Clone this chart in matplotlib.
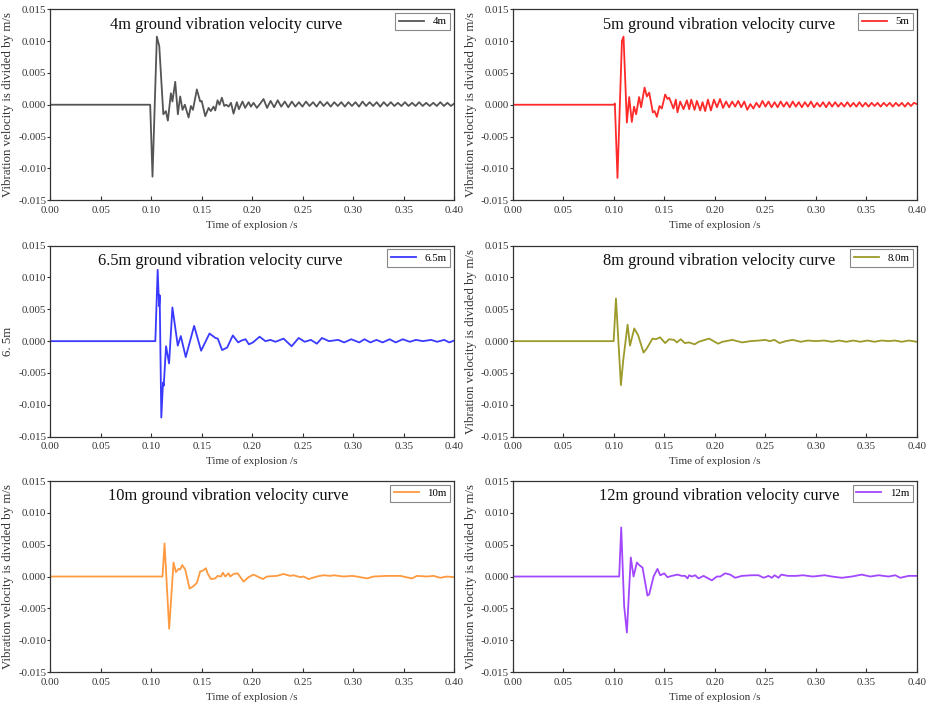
import matplotlib
matplotlib.use("Agg")
import matplotlib.pyplot as plt

plt.rcParams['font.family'] = ['Liberation Serif', 'DejaVu Serif']

# 4m
t_4m = [0, 0.0990, 0.1013, 0.1056, 0.1080, 0.1120, 0.1145, 0.1165, 0.1195, 0.1210,
        0.1238, 0.1264, 0.1287, 0.1310, 0.1333, 0.1370, 0.1393, 0.1413, 0.1452, 0.1485,
        0.1500, 0.1535, 0.1568, 0.1590, 0.1617, 0.1634, 0.1657, 0.1676, 0.1700, 0.1723,
        0.1743, 0.1766, 0.1790, 0.1815, 0.1848, 0.1868, 0.1904, 0.1930, 0.1964, 0.1987,
        0.2013, 0.2046, 0.2080, 0.2112,
        0.2147, 0.2182, 0.2217, 0.2252, 0.2287, 0.2322, 0.2357, 0.2392, 0.2427, 0.2462,
        0.2497, 0.2532, 0.2567, 0.2602, 0.2637, 0.2672, 0.2707, 0.2742, 0.2777, 0.2812,
        0.2847, 0.2882, 0.2917, 0.2952, 0.2987, 0.3022, 0.3057, 0.3092, 0.3127, 0.3162,
        0.3197, 0.3232, 0.3267, 0.3302, 0.3337, 0.3372, 0.3407, 0.3442, 0.3477, 0.3512,
        0.3547, 0.3582, 0.3617, 0.3652, 0.3687, 0.3722, 0.3757, 0.3792, 0.3827, 0.3862,
        0.3897, 0.3932, 0.3967, 0.4000]
v_4m = [0, 0, -0.0113, 0.0107, 0.0092, -0.0015, -0.0010, -0.0025, 0.0018, 0.0005,
        0.0036, -0.0015, 0.0013, -0.0008, 0.0000, -0.0020, -0.0002, -0.0008, 0.0024, 0.0005,
        0.0006, -0.0018, -0.0005, -0.0010, -0.0003, -0.0009, 0.0007, 0.0000, 0.0011, -0.0002,
        0.0000, -0.0003, 0.0003, -0.0014, 0.0004, -0.0007, 0.0005, -0.0005, 0.0004, -0.0003,
        0.0003, -0.0005, 0.0002, 0.0009,
        -0.0005, 0.0006, -0.0004, 0.0007, -0.0003, 0.0005, -0.0004, 0.0005, -0.0003, 0.0004,
        -0.0003, 0.0005, -0.0002, 0.0004, -0.0003, 0.0005, -0.0002, 0.0004, -0.0003, 0.0004,
        -0.0002, 0.0004, -0.0003, 0.0004, -0.0002, 0.0004, -0.0003, 0.0005, -0.0002, 0.0004,
        -0.0002, 0.0004, -0.0003, 0.0004, -0.0002, 0.0004, -0.0002, 0.0003, -0.0002, 0.0004,
        -0.0002, 0.0003, -0.0002, 0.0004, -0.0002, 0.0003, -0.0002, 0.0003, -0.0002, 0.0004,
        -0.0002, 0.0003, -0.0002, 0.0002]

# 5m
t_5m = [0, 0.1000, 0.1010, 0.1036, 0.1080, 0.1096, 0.1129, 0.1152, 0.1178, 0.1200,
        0.1221, 0.1250, 0.1270, 0.1304, 0.1327, 0.1350, 0.1386, 0.1403, 0.1426, 0.1452,
        0.1475, 0.1508, 0.1531, 0.1548, 0.1590, 0.1614, 0.1630, 0.1657, 0.1690, 0.1723,
        0.1746, 0.1766, 0.1799, 0.1822, 0.1855, 0.1878, 0.1904, 0.1931,
        0.1961, 0.1991, 0.2021, 0.2051, 0.2081, 0.2111, 0.2141, 0.2171, 0.2201, 0.2231,
        0.2261, 0.2291, 0.2321, 0.2351, 0.2381, 0.2411, 0.2441, 0.2471, 0.2501, 0.2531,
        0.2561, 0.2591, 0.2621, 0.2651, 0.2681, 0.2711, 0.2741, 0.2771, 0.2801, 0.2831,
        0.2861, 0.2891, 0.2921, 0.2951, 0.2981, 0.3011, 0.3041, 0.3071, 0.3101, 0.3131,
        0.3161, 0.3191, 0.3221, 0.3251, 0.3281, 0.3311, 0.3341, 0.3371, 0.3401, 0.3431,
        0.3461, 0.3491, 0.3521, 0.3551, 0.3581, 0.3611, 0.3641, 0.3671, 0.3701, 0.3731,
        0.3761, 0.3791, 0.3821, 0.3851, 0.3881, 0.3911, 0.3941, 0.3971, 0.4000]
v_5m = [0, 0, 0.0002, -0.0115, 0.0100, 0.0107, -0.0028, 0.0012, -0.0027, -0.0003,
        -0.0015, 0.0012, -0.0004, 0.0027, 0.0013, 0.0019, -0.0012, -0.0010, -0.0019, -0.0002,
        -0.0006, 0.0016, 0.0009, 0.0011, -0.0006, 0.0008, -0.0012, 0.0005, -0.0007, 0.0007,
        -0.0007, 0.0008, -0.0008, 0.0006, -0.0009, 0.0004, -0.0010, 0.0008,
        -0.0009, 0.0008, -0.0004, 0.0009, -0.0005, 0.0005, -0.0004, 0.0005, -0.0003, 0.0006,
        -0.0004, 0.0005, -0.0008, 0.0001, -0.0006, 0.0003, -0.0004, 0.0006, -0.0003, 0.0005,
        -0.0004, 0.0004, -0.0004, 0.0005, -0.0003, 0.0004, -0.0004, 0.0005, -0.0003, 0.0004,
        -0.0004, 0.0004, -0.0003, 0.0005, -0.0004, 0.0003, -0.0003, 0.0004, -0.0004, 0.0004,
        -0.0003, 0.0004, -0.0003, 0.0003, -0.0003, 0.0004, -0.0003, 0.0003, -0.0003, 0.0004,
        -0.0003, 0.0003, -0.0003, 0.0003, -0.0002, 0.0003, -0.0003, 0.0003, -0.0002, 0.0003,
        -0.0003, 0.0003, -0.0002, 0.0003, -0.0003, 0.0003, -0.0002, 0.0003, 0.0001]

# 6.5m
t_65m = [0, 0.1041, 0.1064, 0.1078, 0.1084, 0.1100, 0.1117, 0.1124, 0.1147, 0.1177,
         0.1210, 0.1263, 0.1293, 0.1342, 0.1425, 0.1494, 0.1577, 0.1636, 0.1659, 0.1702,
         0.1752, 0.1808, 0.1861, 0.1894, 0.1934, 0.1967, 0.2007, 0.2073, 0.2130, 0.2180,
         0.2230, 0.2310, 0.2390, 0.2460, 0.2520, 0.2580, 0.2640, 0.2690, 0.2760, 0.2850,
         0.2910, 0.2980, 0.3060, 0.3110, 0.3170, 0.3230, 0.3290, 0.3360, 0.3420, 0.3490,
         0.3560, 0.3620, 0.3690, 0.3770, 0.3830, 0.3900, 0.3950, 0.4000]
v_65m = [0, 0, 0.0112, 0.0055, 0.0072, -0.0120, -0.0065, -0.0070, -0.0008, -0.0035,
         0.0053, -0.0007, 0.0008, -0.0025, 0.0024, -0.0015, 0.0012, 0.0005, 0.0004, -0.0014,
         -0.0010, 0.0009, -0.0002, 0.0001, 0.0003, -0.0005, -0.0002, 0.0007, 0.0000, 0.0002,
         -0.0001, 0.0004, -0.0008, 0.0005, -0.0001, 0.0002, -0.0004, 0.0005, 0.0000, 0.0002,
         -0.0002, 0.0003, -0.0002, 0.0003, -0.0002, 0.0002, -0.0002, 0.0003, -0.0002, 0.0003,
         -0.0001, 0.0002, 0.0000, 0.0002, -0.0001, 0.0002, -0.0002, 0.0001]

# 8.0m
t_8m = [0, 0.0998, 0.1021, 0.1070, 0.1093, 0.1136, 0.1160, 0.1202, 0.1241, 0.1294,
        0.1324, 0.1383, 0.1416, 0.1458, 0.1508, 0.1547, 0.1597, 0.1623, 0.1663, 0.1702,
        0.1745, 0.1800, 0.1840, 0.1943, 0.2032, 0.2075, 0.2173, 0.2270, 0.2350, 0.2440,
        0.2500, 0.2540, 0.2590, 0.2640, 0.2700, 0.2770, 0.2850, 0.2920, 0.3000, 0.3080,
        0.3160, 0.3230, 0.3300, 0.3370, 0.3440, 0.3510, 0.3580, 0.3650, 0.3720, 0.3780,
        0.3850, 0.3920, 0.4000]
v_8m = [0, 0, 0.0067, -0.0069, -0.0030, 0.0026, -0.0007, 0.0020, 0.0009, -0.0018,
        -0.0012, 0.0004, 0.0003, 0.0006, -0.0003, 0.0003, 0.0002, -0.0002, 0.0003, -0.0003,
        -0.0002, -0.0005, -0.0001, 0.0004, -0.0004, -0.0001, 0.0002, -0.0002, 0.0000, 0.0001,
        0.0002, 0.0000, 0.0002, -0.0003, 0.0000, 0.0002, -0.0001, 0.0001, 0.0000, 0.0001,
        -0.0001, 0.0001, -0.0001, 0.0001, -0.0001, 0.0001, -0.0001, 0.0001, 0.0000, 0.0001,
        -0.0001, 0.0001, -0.0001]

# 10m
t_10m = [0, 0.1112, 0.1132, 0.1178, 0.1221, 0.1244, 0.1271, 0.1287, 0.1307, 0.1337,
         0.1380, 0.1419, 0.1452, 0.1485, 0.1508, 0.1541, 0.1558, 0.1591, 0.1634, 0.1657,
         0.1690, 0.1710, 0.1733, 0.1766, 0.1782, 0.1815, 0.1855, 0.1888, 0.1914, 0.1964,
         0.2013, 0.2106, 0.2145, 0.2244, 0.2310, 0.2376, 0.2409, 0.2475, 0.2508, 0.2558,
         0.2640, 0.2706, 0.2772, 0.2805, 0.2904, 0.2987, 0.3036, 0.3135, 0.3201, 0.3333,
         0.3465, 0.3581, 0.3630, 0.3729, 0.3795, 0.3861, 0.3927, 0.4000]
v_10m = [0, 0, 0.0052, -0.0082, 0.0022, 0.0007, 0.0012, 0.0011, 0.0018, 0.0011,
         -0.0019, -0.0015, -0.0010, 0.0008, 0.0009, 0.0013, 0.0005, -0.0004, -0.0003, 0.0001,
         0.0000, 0.0006, 0.0000, 0.0005, 0.0000, 0.0004, 0.0005, -0.0002, -0.0008, -0.0001,
         0.0003, -0.0004, 0.0000, 0.0001, 0.0004, 0.0001, 0.0002, -0.0001, 0.0000, -0.0004,
         0.0000, 0.0002, 0.0001, 0.0002, 0.0000, 0.0001, 0.0000, -0.0003, 0.0000, 0.0001,
         0.0001, -0.0003, 0.0001, 0.0000, 0.0001, -0.0002, 0.0000, -0.0001]

# 12m
t_12m = [0, 0.1053, 0.1073, 0.1102, 0.1129, 0.1168, 0.1195, 0.1228, 0.1251, 0.1284,
         0.1333, 0.1350, 0.1393, 0.1432, 0.1459, 0.1475, 0.1498, 0.1531, 0.1574, 0.1630,
         0.1673, 0.1706, 0.1729, 0.1746, 0.1772, 0.1805, 0.1838, 0.1888, 0.1970, 0.2020,
         0.2053, 0.2102, 0.2152, 0.2201, 0.2267, 0.2366, 0.2432, 0.2482, 0.2531, 0.2564,
         0.2591, 0.2630, 0.2657, 0.2723, 0.2805, 0.2871, 0.2970, 0.3086, 0.3158, 0.3257,
         0.3356, 0.3455, 0.3538, 0.3620, 0.3719, 0.3785, 0.3835, 0.3917, 0.4000]
v_12m = [0, 0, 0.0077, -0.0046, -0.0088, 0.0030, 0.0000, 0.0022, 0.0018, 0.0014,
         -0.0030, -0.0028, 0.0000, 0.0012, 0.0002, 0.0003, 0.0005, -0.0001, 0.0001, 0.0003,
         0.0001, 0.0001, -0.0003, 0.0002, 0.0000, 0.0002, -0.0003, 0.0001, -0.0006, 0.0000,
         0.0000, 0.0005, 0.0003, -0.0002, 0.0001, 0.0002, 0.0002, -0.0002, 0.0001, -0.0002,
         0.0002, -0.0002, 0.0003, 0.0001, 0.0001, 0.0002, 0.0000, 0.0002, 0.0000, -0.0002,
         0.0000, 0.0003, 0.0000, 0.0002, 0.0000, 0.0002, -0.0002, 0.0001, 0.0001]

labels = ['4m', '5m', '6.5m', '8.0m', '10m', '12m']
titles = ['4m ground vibration velocity curve', '5m ground vibration velocity curve',
          '6.5m ground vibration velocity curve', '8m ground vibration velocity curve',
          '10m ground vibration velocity curve', '12m ground vibration velocity curve']
ylabels = ['Vibration velocity is divided by m/s', 'Vibration velocity is divided by m/s',
           '6. 5m', 'Vibration velocity is divided by m/s',
           'Vibration velocity is divided by m/s', 'Vibration velocity is divided by m/s']
colors = ['#555555', '#ff2a2a', '#3a3aff', '#9c9a2a', '#ff9a40', '#a347ff']
series = [(t_4m, v_4m), (t_5m, v_5m), (t_65m, v_65m),
          (t_8m, v_8m), (t_10m, v_10m), (t_12m, v_12m)]
title_x = [0.436, 0.51, 0.42, 0.51, 0.44, 0.51]

xticks = [0.00, 0.05, 0.10, 0.15, 0.20, 0.25, 0.30, 0.35, 0.40]
yticks = [-0.015, -0.010, -0.005, 0.000, 0.005, 0.010, 0.015]

fig = plt.figure(figsize=(9.29, 7.10), dpi=100)
lefts = [0.054, 0.552]
bottoms = [0.718, 0.385, 0.0535]

for i in range(6):
    row, col = divmod(i, 2)
    ax = fig.add_axes([lefts[col], bottoms[row], 0.435, 0.269])
    t, v = series[i]
    assert len(t) == len(v), labels[i]
    ax.plot(t, v, color=colors[i], lw=1.3, label=labels[i])
    ax.set_xlim(0, 0.40)
    ax.set_ylim(-0.015, 0.015)
    ax.set_xticks(xticks)
    ax.set_yticks(yticks)
    ax.set_xticklabels(['%.2f' % x for x in xticks])
    ax.set_yticklabels(['%.3f' % y for y in yticks])
    ax.tick_params(axis='x', direction='in', length=3, labelsize=7.8, colors='#333333', pad=4)
    ax.tick_params(axis='y', direction='out', length=2, labelsize=7.8, colors='#333333', pad=0.8)
    for s in ax.spines.values():
        s.set_color('#333333')
        s.set_linewidth(0.9)
    ax.set_xlabel('Time of explosion /s', fontsize=8, color='#333333', labelpad=4)
    ax.set_ylabel(ylabels[i], fontsize=9.3, color='#333333', labelpad=3)
    ax.text(title_x[i], 0.92, titles[i], transform=ax.transAxes, ha='center', va='center',
            fontsize=11.8, color='#111111')
    leg = ax.legend(loc='upper right', fontsize=7.8, fancybox=False, edgecolor='#888888',
                    handlelength=2.3, borderaxespad=0.35, borderpad=0.35, framealpha=1)
    leg.get_frame().set_linewidth(0.8)

fig.savefig('out.png', dpi=100)
